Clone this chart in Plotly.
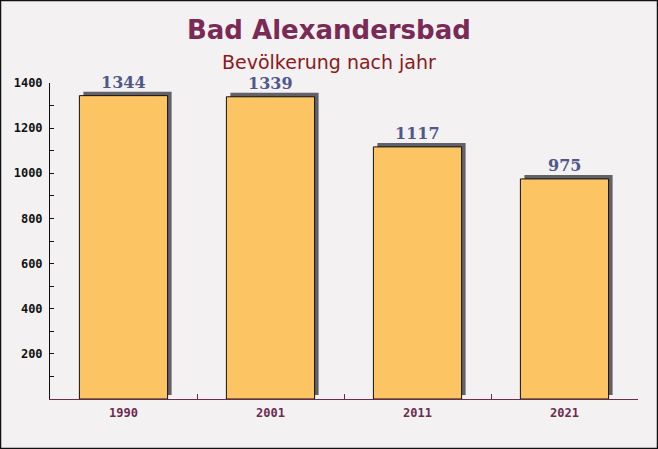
import plotly.graph_objects as go

years = ["1990", "2001", "2011", "2021"]
population = [1344, 1339, 1117, 975]
y_ticks = [200, 400, 600, 800, 1000, 1200, 1400]

W, H = 658, 449
ML, MR, MT, MB = 50, 20, 83, 50
PW, PH = W - ML - MR, H - MT - MB
YMAX = 1400

shadow_dy = 4 * YMAX / PH          # 4px in data units
shadow_dx = 4 * len(years) / PW    # 4px in category units

fig = go.Figure()
fig.add_trace(go.Bar(
    x=years, y=population, base=shadow_dy, offset=-0.3 + shadow_dx, width=0.6,
    marker=dict(color="rgb(98,96,104)", line=dict(width=0)),
    hoverinfo="skip", showlegend=False,
))
fig.add_trace(go.Bar(
    x=years, y=population, offset=-0.3, width=0.6,
    marker=dict(color="rgb(252,196,98)", line=dict(color="#111111", width=1)),
    showlegend=False,
))

for i, v in enumerate(population):
    fig.add_annotation(x=i, y=v, text=str(v), showarrow=False, yanchor="bottom",
                       yshift=2, font=dict(family="DejaVu Serif", size=16, color="#50588a", weight="bold"))

cx = (W / 2 - ML) / PW
fig.add_annotation(xref="paper", yref="paper", x=cx, y=1 + (MT - 30) / PH, yanchor="middle",
                   text="<b>Bad Alexandersbad</b>", showarrow=False,
                   font=dict(family="DejaVu Sans", size=26, color="#7a2a55"))
fig.add_annotation(xref="paper", yref="paper", x=cx, y=1 + (MT - 62) / PH, yanchor="middle",
                   text="Bevölkerung nach jahr", showarrow=False,
                   font=dict(family="DejaVu Sans", size=19, color="#8b1a1a"))

fig.update_layout(
    width=W, height=H,
    margin=dict(l=ML, r=MR, t=MT, b=MB),
    paper_bgcolor="#f3f1f2", plot_bgcolor="rgba(0,0,0,0)",
    barmode="overlay",
    xaxis=dict(
        type="category", showline=True, linecolor="#6b2c50", linewidth=1,
        ticks="inside", tickson="boundaries", ticklen=5, tickcolor="#6b2c50",
        tickfont=dict(family="DejaVu Sans Mono", size=12, color="#6b2c50", weight="bold"),
        ticklabelstandoff=3,
        showgrid=False, range=[-0.5, 3.5],
    ),
    yaxis=dict(
        range=[0, YMAX], tickvals=y_ticks, showline=True, linecolor="#111111", linewidth=1,
        ticks="inside", ticklen=4, tickcolor="#111111",
        minor=dict(dtick=100, ticks="inside", ticklen=4, tickcolor="#111111"),
        tickfont=dict(family="DejaVu Sans Mono", size=12, color="#111111", weight="bold"),
        ticklabelstandoff=4,
        showgrid=False, zeroline=False,
    ),
    shapes=[dict(type="rect", xref="paper", yref="paper",
                 x0=-ML / PW + 0.5 / PW, x1=1 + MR / PW - 0.5 / PW,
                 y0=-MB / PH + 0.5 / PH, y1=1 + MT / PH - 0.5 / PH,
                 line=dict(color="#111111", width=1.5), layer="above")],
)

fig.write_html("out.html")
